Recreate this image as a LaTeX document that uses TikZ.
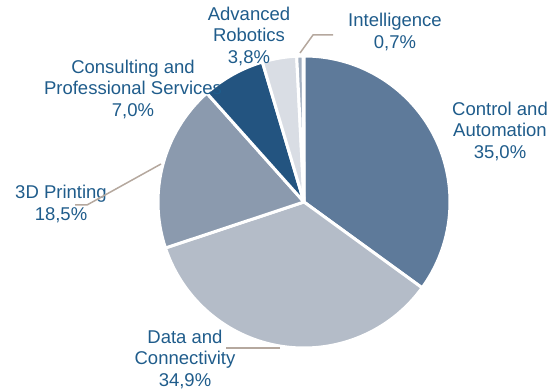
\documentclass[tikz,border=0pt]{standalone}
\usepackage{fontspec}
\setmainfont{Liberation Sans}
\usetikzlibrary{positioning}
\usetikzlibrary{calc}
\definecolor{ctrlblue}{HTML}{5E7A9A}
\definecolor{datagrey}{HTML}{B4BCC8}
\definecolor{printgrey}{HTML}{8B9AAE}
\definecolor{consblue}{HTML}{235480}
\definecolor{robogrey}{HTML}{D9DDE4}
\definecolor{intelgrey}{HTML}{A3B0C1}
\definecolor{labelblue}{HTML}{1F5C8B}
\definecolor{leadergrey}{HTML}{B5A89E}
\tikzset{
  label_style/.style = {
    align=center, text=labelblue, inner sep=0pt,
    font=\fontsize{18.5}{21.5}\selectfont }
}

\begin{document}
\begin{tikzpicture}[x=1pt,y=1pt,
slice_style/.style={draw=white,line width=3pt,line join=round},
leader_style/.style={draw=leadergrey,line width=1.5pt}]

\useasboundingbox (0,0) rectangle (550,390);
\coordinate (c) at (304,188);

% slices, clockwise from the top
\foreach \a/\b/\col in {90/-36/ctrlblue,-36/-161.64/datagrey,-161.64/-228.24/printgrey,
  -228.24/-253.44/consblue,-253.44/-267.12/robogrey,-267.12/-269.64/intelgrey}{
 \filldraw[slice_style,fill=\col] (c) -- ++(\a:146) arc[start angle=\a,end angle=\b,radius=146] -- cycle;
}

% labels
\node[label_style] (ctrl) at (500,259) {Control and\\Automation\\35,0\%};
\node[label_style] (data) at (185,31) {Data and\\Connectivity\\34,9\%};
\node[label_style] (print) at (61,186) {3D Printing\\18,5\%};
\node[label_style] (cons) at (133,301) {Consulting and\\Professional Services\\7,0\%};
\node[label_style] (robo) at (249,354) {Advanced\\Robotics\\3,8\%};
\node[label_style] (intel) at (395,358) {Intelligence\\0,7\%};

% leader lines
\coordinate (data_tip) at (280,42);
\coordinate (data_end) at (226,42);
\coordinate (print_tip) at (161,226);
\coordinate (print_bend) at (87,185);
\coordinate (print_end) at (75,185);
\coordinate (intel_tip) at (300,337);
\coordinate (intel_bend) at (313,355);
\coordinate (intel_end) at (333,355);

\draw[leader_style] (data_tip) -- (data_end);
\draw[leader_style] (print_tip) -- (print_bend) -- (print_end);
\draw[leader_style] (intel_tip) -- (intel_bend) -- (intel_end);
\end{tikzpicture}
\end{document}
